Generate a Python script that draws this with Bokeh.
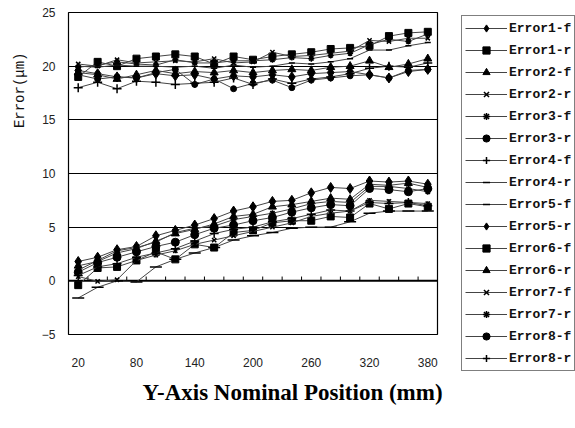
import math
from bokeh.plotting import figure
from bokeh.models import FixedTicker, Legend, LegendItem, Title, Range1d
from bokeh.embed import file_html
from bokeh.resources import INLINE

# ---------------- data ----------------
positions = [20, 40, 60, 80, 100, 120, 140, 160, 180, 200, 220, 240, 260, 280, 300, 320, 340, 360, 380]
x_tick_labels = [20, 80, 140, 200, 260, 320, 380]
y_ticks = [-5, 0, 5, 10, 15, 20, 25]

series_names = ["Error1-f", "Error1-r", "Error2-f", "Error2-r", "Error3-f", "Error3-r", "Error4-f", "Error4-r",
                "Error5-f", "Error5-r", "Error6-f", "Error6-r", "Error7-f", "Error7-r", "Error8-f", "Error8-r"]

error1_f = [19.6, 19.3, 19.0, 18.9, 19.3, 19.1, 19.2, 18.8, 19.1, 19.0, 19.2, 19.0, 19.3, 19.4, 19.5, 19.2, 18.9, 19.5, 19.7]
error1_r = [19.0, 20.4, 20.0, 20.7, 20.9, 21.1, 20.9, 20.2, 20.9, 20.6, 20.9, 21.1, 21.3, 21.6, 21.7, 21.9, 22.8, 23.1, 23.2]
error2_f = [19.4, 19.2, 18.8, 19.2, 19.6, 19.3, 19.5, 19.4, 19.6, 19.4, 19.6, 19.7, 19.6, 19.9, 20.0, 20.5, 19.9, 20.2, 20.7]
error2_r = [20.2, 20.0, 20.6, 20.3, 20.4, 20.5, 20.4, 20.7, 20.3, 20.4, 21.3, 20.9, 21.0, 21.2, 21.4, 22.4, 22.3, 22.6, 22.6]
error3_f = [19.9, 20.1, 20.4, 20.2, 20.1, 20.6, 20.3, 20.3, 20.5, 20.5, 20.6, 20.8, 20.7, 21.0, 21.2, 22.0, 22.5, 22.3, 23.0]
error3_r = [19.2, 18.8, 19.0, 18.9, 19.4, 19.7, 18.3, 18.8, 17.9, 18.4, 18.7, 18.0, 18.7, 18.9, 19.1, 19.2, 18.9, 19.6, 19.7]
error4_f = [18.0, 18.5, 17.9, 18.6, 18.5, 18.3, 18.4, 18.5, 18.9, 18.3, 18.8, 18.4, 18.8, 19.0, 19.3, 19.8, 20.0, 19.9, 20.3]
error4_r = [20.0, 19.9, 20.1, 20.0, 20.0, 19.9, 20.0, 19.8, 20.1, 19.9, 20.0, 20.3, 20.2, 20.4, 20.7, 21.5, 21.5, 21.9, 22.2]
error5_f = [-1.6, -0.6, 0.0, -0.1, 1.3, 2.0, 2.6, 3.1, 3.8, 4.2, 4.5, 4.9, 5.0, 5.0, 5.5, 6.3, 6.5, 6.5, 6.5]
error5_r = [1.8, 2.2, 2.9, 3.2, 4.2, 4.7, 5.2, 5.8, 6.5, 6.9, 7.4, 7.5, 8.2, 8.7, 8.6, 9.3, 9.2, 9.3, 9.0]
error6_f = [-0.4, 1.2, 1.3, 1.9, 2.7, 2.0, 3.4, 3.1, 4.5, 4.7, 5.4, 5.6, 5.6, 6.0, 5.9, 7.2, 6.7, 7.2, 6.9]
error6_r = [1.4, 1.8, 2.6, 3.0, 3.7, 4.4, 4.8, 5.3, 6.0, 6.2, 6.9, 7.1, 7.4, 7.7, 7.6, 9.0, 8.9, 9.1, 8.7]
error7_f = [0.4, -0.05, 0.1, 1.9, 2.4, 2.8, 3.4, 3.8, 4.2, 4.6, 5.0, 5.4, 6.0, 6.3, 6.5, 7.5, 7.4, 7.3, 7.2]
error7_r = [1.0, 1.9, 2.8, 3.1, 3.6, 4.5, 4.9, 5.1, 5.7, 6.0, 6.3, 6.7, 7.2, 7.4, 7.3, 8.8, 8.8, 8.6, 8.3]
error8_f = [0.8, 1.7, 2.2, 2.7, 3.2, 3.6, 4.3, 4.9, 5.2, 5.6, 5.9, 6.4, 6.8, 7.1, 7.0, 8.6, 8.5, 8.3, 8.6]
error8_r = [0.5, 1.3, 1.6, 2.2, 2.6, 3.0, 3.7, 4.4, 4.8, 5.0, 5.5, 5.8, 6.2, 6.6, 6.5, 7.3, 7.2, 7.3, 7.0]

series_values = [error1_f, error1_r, error2_f, error2_r, error3_f, error3_r, error4_f, error4_r,
                 error5_f, error5_r, error6_f, error6_r, error7_f, error7_r, error8_f, error8_r]

# ---------------- styles ----------------
marker_styles = [("diamond", 10), ("square", 7), ("triangle", 8), ("x", 6), ("asterisk", 6), ("circle", 6),
                 ("cross", 9), ("dash", 6), ("dash", 12), ("diamond", 10), ("square", 7), ("triangle", 8),
                 ("x", 6), ("asterisk", 6), ("circle", 8), ("cross", 9)]

step = positions[1] - positions[0]
p = figure(frame_width=369, frame_height=322, min_border_left=68, min_border_right=138,
           min_border_top=12, min_border_bottom=94,
           x_range=Range1d(positions[0] - step / 2, positions[-1] + step / 2),
           y_range=Range1d(y_ticks[0], y_ticks[-1]),
           output_backend="svg", toolbar_location=None)
p.background_fill_color = "white"
p.border_fill_color = "white"
p.outline_line_color = "black"
p.outline_line_width = 1.2

# axes
p.xaxis.ticker = FixedTicker(ticks=x_tick_labels)
p.yaxis.ticker = FixedTicker(ticks=y_ticks)
for ax in (p.xaxis[0], p.yaxis[0]):
    ax.axis_line_color = None
    ax.major_tick_line_color = None
    ax.minor_tick_line_color = None
    ax.major_tick_out = 0
    ax.major_tick_in = 0
    ax.minor_tick_out = 0
    ax.minor_tick_in = 0
    ax.major_label_text_font = "Liberation Sans"
    ax.major_label_text_font_size = "12px"
    ax.major_label_text_color = "#222222"
p.xaxis.major_label_standoff = 23
p.yaxis.major_label_standoff = 13
p.xgrid.grid_line_color = None
p.ygrid.grid_line_color = "black"
p.ygrid.grid_line_width = 1.2

# zero axis line + category boundary ticks
bounds = [x + step / 2 for x in positions[:-1]]
p.segment(x0=[positions[0] - step / 2], x1=[positions[-1] + step / 2], y0=[0], y1=[0],
          line_color="black", line_width=2)
p.segment(x0=bounds, x1=bounds, y0=[0] * len(bounds), y1=[0.4] * len(bounds),
          line_color="black", line_width=1)

items = []
for name, vals, (mk, sz) in zip(series_names, series_values, marker_styles):
    lr = p.line(positions, vals, line_color="#444444", line_width=1)
    sr = p.scatter(positions, vals, marker=mk, size=sz, fill_color="black", line_color="black",
                   line_width=1.5 if mk in ("x", "asterisk", "cross", "dash") else 1)
    items.append(LegendItem(label=name, renderers=[lr, sr]))

legend = Legend(items=items, location=(24, -37))
legend.border_line_color = "black"
legend.border_line_width = 1
legend.background_fill_alpha = 1
legend.padding = 3
legend.margin = 0
legend.spacing = 4
legend.glyph_width = 42
legend.glyph_height = 18
legend.label_height = 18
legend.label_standoff = 2
legend.label_text_font = "Liberation Mono"
legend.label_text_font_style = "bold"
legend.label_text_font_size = "13px"
legend.label_text_color = "#111111"
p.add_layout(legend, "right")

# axis titles
xt = Title(text="Y-Axis Nominal Position (mm)", align="left", offset=74, standoff=18,
           vertical_align="middle", text_font="Liberation Serif", text_font_style="bold",
           text_font_size="23px", text_color="black")
p.add_layout(xt, "below")
yt = Title(text="Error(μm)", align="right", offset=40, standoff=20, vertical_align="middle",
           text_font="Liberation Mono", text_font_style="normal", text_font_size="14px",
           text_color="#111111")
p.add_layout(yt, "left")

open("out.html", "w").write(file_html(p, INLINE))
